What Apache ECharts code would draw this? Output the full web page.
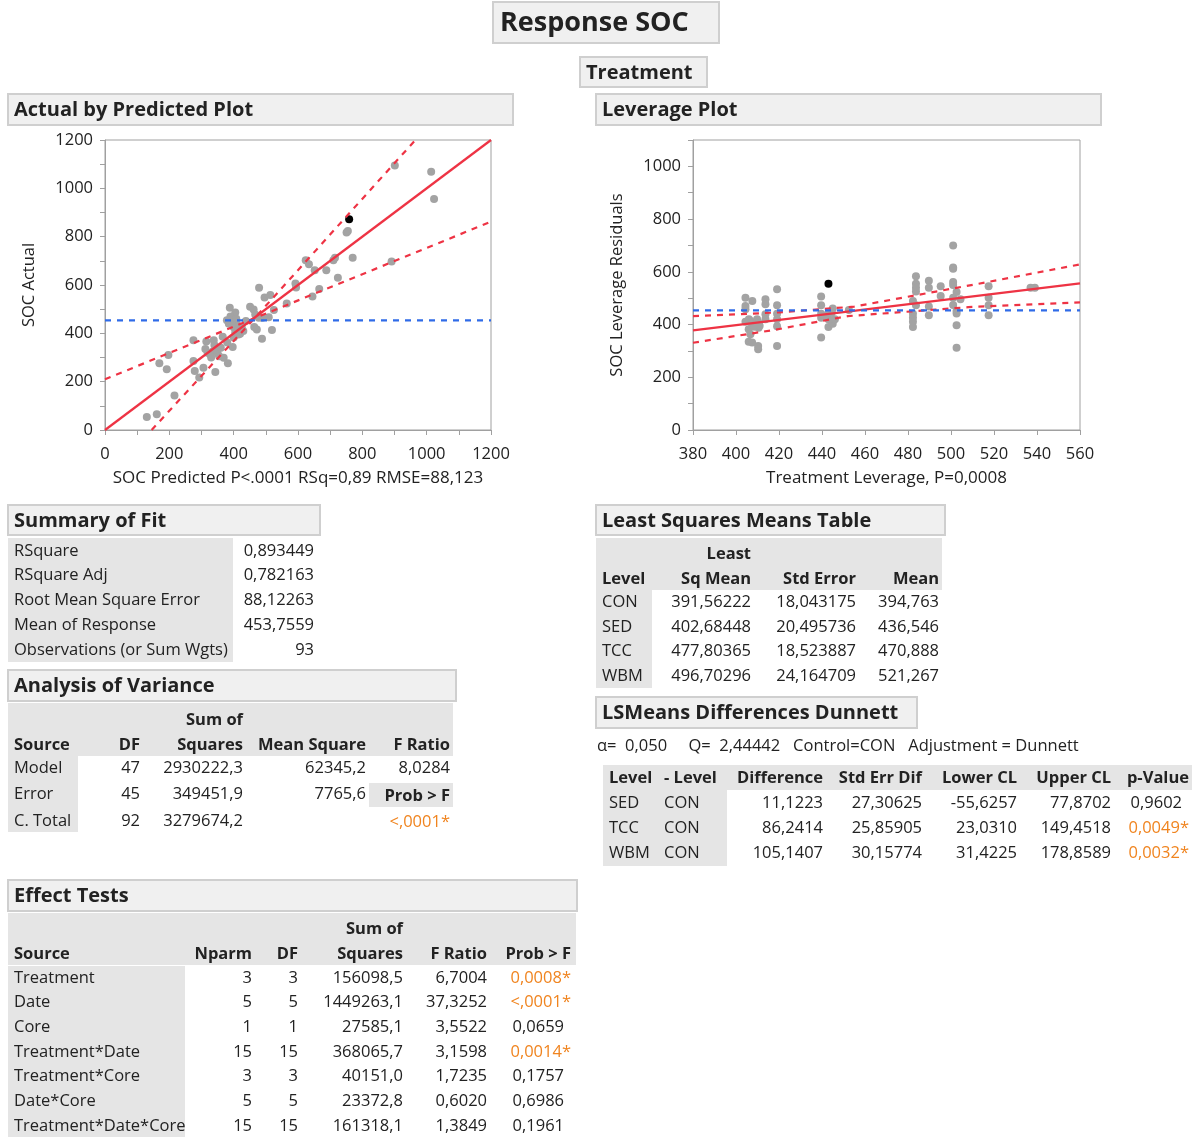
<!DOCTYPE html>
<html><head><meta charset="utf-8">
<script src="https://cdn.jsdelivr.net/npm/echarts@6/dist/echarts.min.js"></script>
<style>html,body{margin:0;padding:0;background:#fff}#c{width:1196px;height:1137px}</style>
</head><body><div id="c"></div>
<script>
// ---------- Actual by Predicted plot data ----------
const apPoints = [[130,54],[161,65],[216,143],[169,276],[197,310],[192,251],[275,371],[275,286],[279,244],[293,217],[306,258],[315,366],[319,320],[327,313],[338,371],[343,240],[335,325],[350,318],[369,299],[382,276],[366,386],[380,362],[397,343],[388,506],[405,486],[379,454],[395,445],[400,425],[405,405],[410,438],[415,418],[420,398],[400,383],[425,425],[438,451],[451,510],[462,499],[467,478],[464,426],[472,416],[479,589],[488,378],[496,548],[514,559],[525,497],[519,414],[509,467],[489,464],[478,464],[565,523],[592,606],[594,590],[624,702],[634,686],[645,552],[652,661],[666,583],[688,661],[710,702],[715,713],[724,630],[751,817],[755,823],[770,713],[891,697],[901,1094],[1014,1069],[1023,956],[390,470],[395,455],[385,440],[408,460],[415,395],[430,410],[345,330],[330,300],[355,305],[312,335],[340,352],[360,340]];
const apHighlight = [[759,872]];
const apFit = [[0,0],[1200,1200]];
const apUpper = [[145,0],[460,455],[965,1200]];
const apLower = [[0,210],[460,460],[1200,862]];
const apMean = 453.7559;

// ---------- Leverage plot data ----------
const lvPoints = [[404.4,502],[404.4,470],[404.4,458],[404.4,411],[407.6,489],[406.7,413],[407.5,400],[405.9,382],[406.7,363],[405.9,335],[407.5,332],[409,400],[409.8,420],[410.5,406],[410.5,388],[410.3,319],[410.3,306],[413.7,496],[413.7,477],[413.7,439],[413.7,420],[419.1,534],[419.1,473],[419.1,441],[419.1,420],[419.1,394],[419.1,319],[408.5,392],[406,420],[411,395],
[439.6,506],[439.6,473],[439.6,441],[439.6,426],[439.6,351],[443,441],[443,420],[443,391],[444.5,445],[445,461],[445,403],[452.5,455],[441,430],[446,420],
[483.7,583],[483.7,555],[483.7,540],[483.7,525],[482.3,489],[483.7,473],[482.3,441],[482.3,426],[482.3,411],[482.3,391],[489.7,566],[489.7,540],[489.7,468],[489.7,435],[495.2,545],[495.2,508],
[501,700],[501,616],[501,612],[501,561],[501,550],[501,502],[501,474],[502.6,523],[502.6,451],[502.6,442],[502.6,397],[502.6,312],[504.4,496],[517.5,545],[517.5,502],[517.5,473],[517.5,435],[537,540],[539,540]];
const lvHighlight = [[443,555]];
const lvFit = [[380,378],[560,556]];
const lvUpper = [[380,432],[420,446],[455,468],[511,552],[560,628]];
const lvLower = [[380,331],[418,380],[452,432],[508,466],[560,484]];
const lvMean = 453.7559;

// ---------- Tables ----------
const summaryLabels = ["RSquare","RSquare Adj","Root Mean Square Error","Mean of Response","Observations (or Sum Wgts)"];
const summaryValues = ["0,893449","0,782163","88,12263","453,7559","93"];

const anovaSource = ["Model","Error","C. Total"];
const anovaDF = ["47","45","92"];
const anovaSS = ["2930222,3","349451,9","3279674,2"];
const anovaMS = ["62345,2","7765,6",""];
const anovaF = ["8,0284","",""];
const anovaProb = "<,0001*";

const effSource = ["Treatment","Date","Core","Treatment*Date","Treatment*Core","Date*Core","Treatment*Date*Core"];
const effNparm = ["3","5","1","15","3","5","15"];
const effDF = ["3","5","1","15","3","5","15"];
const effSS = ["156098,5","1449263,1","27585,1","368065,7","40151,0","23372,8","161318,1"];
const effF = ["6,7004","37,3252","3,5522","3,1598","1,7235","0,6020","1,3849"];
const effProb = ["0,0008*","<,0001*","0,0659","0,0014*","0,1757","0,6986","0,1961"];

const lsmLevel = ["CON","SED","TCC","WBM"];
const lsmMean = ["391,56222","402,68448","477,80365","496,70296"];
const lsmSE = ["18,043175","20,495736","18,523887","24,164709"];
const lsmRaw = ["394,763","436,546","470,888","521,267"];

const dunInfo = "α=  0,050     Q=  2,44442   Control=CON   Adjustment = Dunnett";
const dunLevel = ["SED","TCC","WBM"];
const dunMinus = ["CON","CON","CON"];
const dunDiff = ["11,1223","86,2414","105,1407"];
const dunSE = ["27,30625","25,85905","30,15774"];
const dunLow = ["-55,6257","23,0310","31,4225"];
const dunUp = ["77,8702","149,4518","178,8589"];
const dunP = ["0,9602","0,0049*","0,0032*"];

// ---------- styling helpers ----------
const FONT = '"Open Sans", "Noto Sans", sans-serif';
const TXT = '#222222';
const ORANGE = '#f0841f';
const GRAYBG = '#e5e5e5';
const HDRBG = '#f0f0f0';
const HDRBD = '#cfcfcf';
const BODY = 16.5;
const g = [];
function rect(x,y,w,h,fill,stroke){
  g.push({type:'rect',shape:{x:x,y:y,width:w,height:h},style:{fill:fill,stroke:stroke||null,lineWidth:stroke?2:0},silent:true});
}
function txt(x,y,s,align,bold,color,size){
  g.push({type:'text',x:x,y:y,style:{text:s,align:align||'left',verticalAlign:'middle',fill:color||TXT,
    font:(bold?'bold ':'')+(size||BODY)+'px '+FONT},silent:true});
}
function box(x,y,w,h,s,size,tx){
  rect(x,y,w,h,HDRBG,HDRBD);
  txt(tx||x+6,y+h/2+1,s,'left',true,TXT,size||20);
}
function pval(x,y,s){
  const star = s.endsWith('*');
  txt(star?x+7:x,y,s,'right',false,star?ORANGE:TXT);
}

// Title boxes
box(493,2,226,41,'Response SOC',27,500);
box(580,57,127,30,'Treatment',20);
box(8,94,505,31,'Actual by Predicted Plot',20);
box(596,94,505,31,'Leverage Plot',20);

// Summary of Fit
box(8,505,312,30,'Summary of Fit',20);
rect(8,538,225,124,GRAYBG);
summaryLabels.forEach((s,i)=>{ const y=551+i*24.7; txt(14,y,s); txt(314,y,summaryValues[i],'right'); });

// Analysis of Variance
box(8,670,448,31,'Analysis of Variance',20);
rect(8,703,445,53,GRAYBG);
rect(8,756,70,76,GRAYBG);
txt(243,720,'Sum of','right',true);
txt(14,745,'Source','left',true); txt(140,745,'DF','right',true); txt(243,745,'Squares','right',true);
txt(366,745,'Mean Square','right',true); txt(450,745,'F Ratio','right',true);
anovaSource.forEach((s,i)=>{ const y=768+i*26.5; txt(14,y,s); txt(140,y,anovaDF[i],'right'); txt(243,y,anovaSS[i],'right');
  if(anovaMS[i]) txt(366,y,anovaMS[i],'right'); if(anovaF[i]) txt(450,y,anovaF[i],'right'); });
rect(369,783,84,24,GRAYBG);
txt(450,796,'Prob > F','right',true);
txt(450,822,anovaProb,'right',false,ORANGE);

// Effect Tests
box(8,880,569,31,'Effect Tests',20);
rect(8,913,568,52,GRAYBG);
rect(8,966,177,171,GRAYBG);
txt(403,929,'Sum of','right',true);
txt(14,954,'Source','left',true); txt(252,954,'Nparm','right',true); txt(298,954,'DF','right',true);
txt(403,954,'Squares','right',true); txt(487,954,'F Ratio','right',true); txt(571,954,'Prob > F','right',true);
effSource.forEach((s,i)=>{ const y=978+i*24.65; txt(14,y,s); txt(252,y,effNparm[i],'right'); txt(298,y,effDF[i],'right');
  txt(403,y,effSS[i],'right'); txt(487,y,effF[i],'right'); pval(564,y,effProb[i]); });

// Least Squares Means Table
box(596,505,349,30,'Least Squares Means Table',20);
rect(596,538,346,52,GRAYBG);
rect(596,590,56,98,GRAYBG);
txt(751,554,'Least','right',true);
txt(602,579,'Level','left',true); txt(751,579,'Sq Mean','right',true); txt(856,579,'Std Error','right',true); txt(939,579,'Mean','right',true);
lsmLevel.forEach((s,i)=>{ const y=602+i*24.8; txt(602,y,s); txt(751,y,lsmMean[i],'right'); txt(856,y,lsmSE[i],'right'); txt(939,y,lsmRaw[i],'right'); });

// Dunnett
box(596,697,321,31,'LSMeans Differences Dunnett',20);
txt(597,746,dunInfo);
rect(603,765,589,25,GRAYBG);
rect(603,790,124,76,GRAYBG);
txt(609,778,'Level','left',true); txt(664,778,'- Level','left',true); txt(823,778,'Difference','right',true);
txt(922,778,'Std Err Dif','right',true); txt(1017,778,'Lower CL','right',true); txt(1111,778,'Upper CL','right',true); txt(1189,778,'p-Value','right',true);
dunLevel.forEach((s,i)=>{ const y=803+i*25; txt(609,y,s); txt(664,y,dunMinus[i]); txt(823,y,dunDiff[i],'right');
  txt(922,y,dunSE[i],'right'); txt(1017,y,dunLow[i],'right'); txt(1111,y,dunUp[i],'right'); pval(1182,y,dunP[i]); });

// ---------- chart ----------
const AX = '#a0a0a0';
const plain = v => String(v);
function xAx(gi,min,max,interval,name,minor){
  return {type:'value',gridIndex:gi,min:min,max:max,interval:interval,
    axisLine:{show:true,onZero:false,lineStyle:{color:AX}},
    axisTick:{show:true,length:5,lineStyle:{color:AX}},
    minorTick:{show:minor,splitNumber:2,length:5,lineStyle:{color:AX}},
    splitLine:{show:false},minorSplitLine:{show:false},
    axisLabel:{color:TXT,fontSize:16.5,fontFamily:FONT,margin:16,formatter:plain,showMinLabel:true,showMaxLabel:true},
    name:name,nameLocation:'middle',nameGap:40,nameTextStyle:{color:TXT,fontSize:17,fontFamily:FONT}};
}
function yAx(gi,min,max,interval,name,gap){
  return {type:'value',gridIndex:gi,min:min,max:max,interval:interval,
    axisLine:{show:true,onZero:false,lineStyle:{color:AX}},
    axisTick:{show:true,length:5,lineStyle:{color:AX}},
    minorTick:{show:true,splitNumber:2,length:5,lineStyle:{color:AX}},
    splitLine:{show:false},minorSplitLine:{show:false},
    axisLabel:{color:TXT,fontSize:16.5,fontFamily:FONT,margin:12,formatter:plain,showMaxLabel:max%interval===0},
    name:name,nameLocation:'middle',nameRotate:90,nameGap:gap,nameTextStyle:{color:TXT,fontSize:16.5,fontFamily:FONT}};
}
const RED = '#ee3344', BLUE = '#2f6be8', PT = '#a3a3a3';
function ln(xi,data,color,dash){
  return {type:'line',xAxisIndex:xi,yAxisIndex:xi,data:data,showSymbol:false,symbol:'none',silent:true,z:3,
    lineStyle:{color:color,width:2.2,type:dash?[6,6]:'solid'}};
}
function sc(xi,data,color){
  return {type:'scatter',xAxisIndex:xi,yAxisIndex:xi,data:data,symbolSize:8,silent:true,z:2,itemStyle:{color:color,opacity:1}};
}
const chart = echarts.init(document.getElementById('c'),null,{renderer:'canvas'});
chart.setOption({
  animation:false,
  backgroundColor:'#fff',
  grid:[
    {left:105,top:140,width:386,height:290,show:true,borderColor:AX,borderWidth:1,backgroundColor:'transparent'},
    {left:693,top:140,width:387,height:290,show:true,borderColor:AX,borderWidth:1,backgroundColor:'transparent'}
  ],
  xAxis:[xAx(0,0,1200,200,'SOC Predicted P<.0001 RSq=0,89 RMSE=88,123',true), xAx(1,380,560,20,'Treatment Leverage, P=0,0008',false)],
  yAxis:[yAx(0,0,1200,200,'SOC Actual',67), yAx(1,0,1100,200,'SOC Leverage Residuals',67)],
  series:[
    sc(0,apPoints,PT), sc(0,apHighlight,'#000'),
    ln(0,apFit,RED,false), ln(0,apUpper,RED,true), ln(0,apLower,RED,true),
    ln(0,[[0,apMean],[1200,apMean]],BLUE,true),
    sc(1,lvPoints,PT), sc(1,lvHighlight,'#000'),
    ln(1,lvFit,RED,false), ln(1,lvUpper,RED,true), ln(1,lvLower,RED,true),
    ln(1,[[380,lvMean],[560,lvMean]],BLUE,true)
  ],
  graphic:g
});
</script>
</body></html>
